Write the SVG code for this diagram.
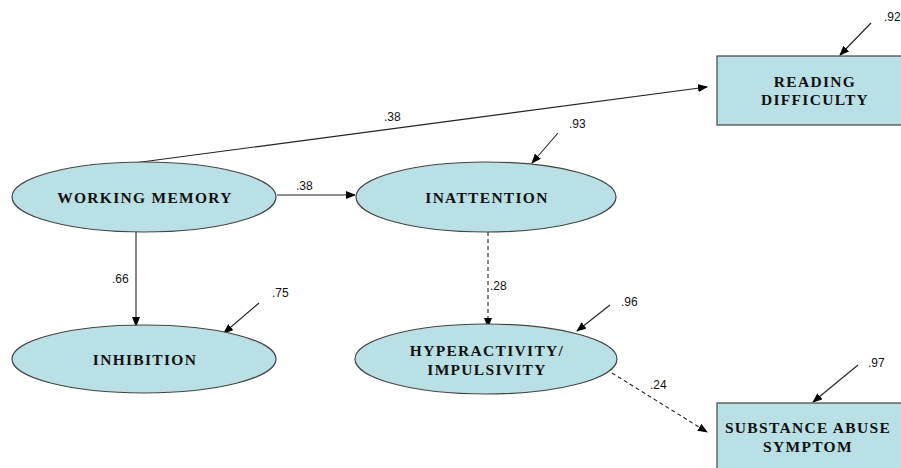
<svg xmlns="http://www.w3.org/2000/svg" width="901" height="468" viewBox="0 0 901 468">
<defs>
<marker id="ah" markerWidth="10" markerHeight="8" refX="9" refY="4" orient="auto" markerUnits="userSpaceOnUse">
<path d="M0,0 L10,4 L0,8 Z" fill="#000"/>
</marker>
<style>
.node{fill:#b9e0e4;stroke:#444;stroke-width:1.2}
.nt{font-family:"Liberation Serif","Times New Roman",serif;font-weight:bold;font-size:15.5px;letter-spacing:1.3px;fill:#111;text-anchor:middle}
.c{stroke:#222;stroke-width:1.1;fill:none}
.d{stroke:#222;stroke-width:1.1;fill:none;stroke-dasharray:4,3}
.lb{font-family:"Liberation Sans",Arial,sans-serif;font-size:12px;fill:#111}
</style>
</defs>
<rect width="901" height="468" fill="#fff"/>
<g id="connectors">
<line class="c" x1="134" y1="163" x2="707" y2="87" marker-end="url(#ah)"/>
<line class="c" x1="277" y1="195" x2="355" y2="195" marker-end="url(#ah)"/>
<line class="c" x1="136" y1="232" x2="136" y2="326" marker-end="url(#ah)"/>
<line class="d" x1="488" y1="232" x2="488" y2="327" marker-end="url(#ah)"/>
<line class="d" x1="612" y1="373" x2="707" y2="432" marker-end="url(#ah)"/>
<line class="c" x1="871" y1="23" x2="840" y2="55" marker-end="url(#ah)"/>
<line class="c" x1="558" y1="133" x2="532" y2="163" marker-end="url(#ah)"/>
<line class="c" x1="259" y1="303" x2="224" y2="333" marker-end="url(#ah)"/>
<line class="c" x1="610" y1="305" x2="577" y2="331" marker-end="url(#ah)"/>
<line class="c" x1="858" y1="365" x2="813" y2="402" marker-end="url(#ah)"/>
<text class="lb" x="384" y="121">.38</text>
<text class="lb" x="296" y="190">.38</text>
<text class="lb" x="112" y="283">.66</text>
<text class="lb" x="490" y="290">.28</text>
<text class="lb" x="650" y="389">.24</text>
<text class="lb" x="884" y="21">.92</text>
<text class="lb" x="569" y="128">.93</text>
<text class="lb" x="272" y="297">.75</text>
<text class="lb" x="621" y="306">.96</text>
<text class="lb" x="868" y="367">.97</text>
</g>
<g id="working-memory">
<ellipse class="node" cx="144" cy="197" rx="132" ry="35"/>
<text class="nt" x="145" y="203">WORKING MEMORY</text>
</g>
<g id="inattention">
<ellipse class="node" cx="486" cy="197" rx="130" ry="35"/>
<text class="nt" x="487" y="203">INATTENTION</text>
</g>
<g id="inhibition">
<ellipse class="node" cx="144" cy="359" rx="132" ry="34"/>
<text class="nt" x="145" y="365">INHIBITION</text>
</g>
<g id="hyperactivity">
<ellipse class="node" cx="486" cy="359" rx="131" ry="35"/>
<text class="nt" x="487" y="356">HYPERACTIVITY/</text>
<text class="nt" x="487" y="375">IMPULSIVITY</text>
</g>
<g id="reading-difficulty">
<rect class="node" x="717" y="56" width="200" height="69"/>
<text class="nt" x="815" y="87">READING</text>
<text class="nt" x="815" y="105">DIFFICULTY</text>
</g>
<g id="substance-abuse">
<rect class="node" x="717" y="403" width="200" height="80"/>
<text class="nt" x="808" y="433">SUBSTANCE ABUSE</text>
<text class="nt" x="808" y="452">SYMPTOM</text>
</g>
</svg>
